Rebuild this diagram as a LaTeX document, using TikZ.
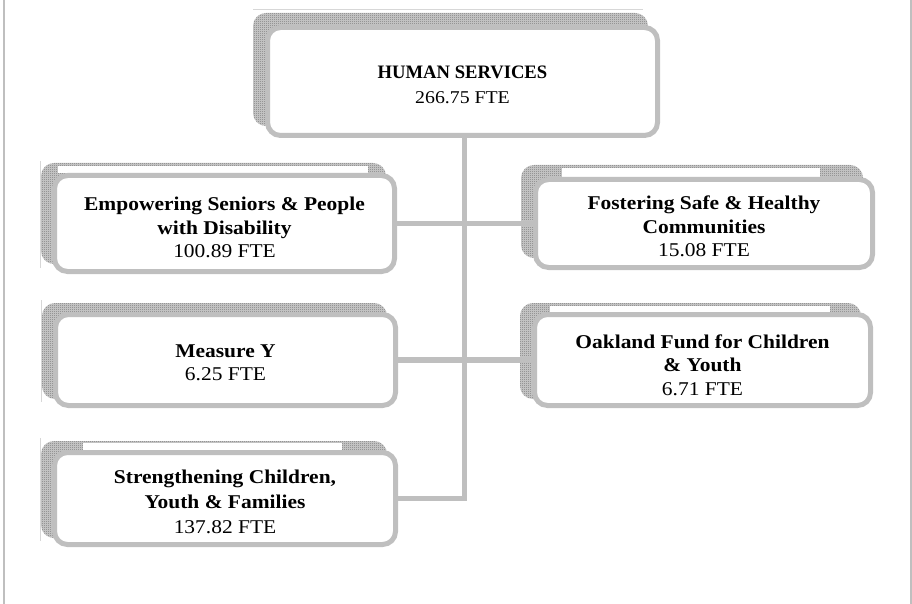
\documentclass[tikz,border=0pt]{standalone}
\usepackage{fontspec}
\setmainfont[FakeStretch=1.1]{Liberation Serif}
\usetikzlibrary{patterns,backgrounds}
\definecolor{boxgray}{RGB}{191,191,191}
\definecolor{shadegray}{RGB}{120,120,120}
\definecolor{shadebase}{RGB}{205,205,205}
\definecolor{thingray}{RGB}{215,215,215}
\pgfdeclarepatternformonly{finecheck}{\pgfqpoint{0pt}{0pt}}{\pgfqpoint{2pt}{2pt}}{\pgfqpoint{2pt}{2pt}}{%
  \pgfpathrectangle{\pgfqpoint{0pt}{0pt}}{\pgfqpoint{1pt}{1pt}}%
  \pgfpathrectangle{\pgfqpoint{1pt}{1pt}}{\pgfqpoint{1pt}{1pt}}%
  \pgfusepath{fill}}
\tikzset{
  orgbox/.style={draw=boxgray, line width=5pt, rounded corners=13pt, fill=white, inner sep=0pt},
  boxtext/.style={align=center, inner sep=0pt, font=\fontsize{19.5}{23.5}\selectfont},
  shade/.style={preaction={fill=shadebase}, pattern=finecheck, pattern color=shadegray, rounded corners=13pt},
  gap/.style={fill=white, draw=none},
  conn/.style={draw=boxgray, line width=5.5pt},
  thin/.style={draw=thingray, line width=1pt},
  frame/.style={draw=boxgray, line width=2pt}
}
\begin{document}
\begin{tikzpicture}[x=1pt,y=-1pt]
\useasboundingbox (0,0) rectangle (912,604);
% page border lines
\draw[frame] (3.5,0) -- (3.5,604);
\draw[frame] (910.5,0) -- (910.5,604);

% boxes
\node[orgbox, minimum width=390pt, minimum height=108pt] (hs) at (462.5,81.5) {};
\node[orgbox, minimum width=340pt, minimum height=96pt] (emp) at (224.5,223.5) {};
\node[orgbox, minimum width=337pt, minimum height=88pt] (fos) at (704,223.5) {};
\node[orgbox, minimum width=340pt, minimum height=91pt] (my) at (225.5,360) {};
\node[orgbox, minimum width=336pt, minimum height=91pt] (oak) at (702.5,360) {};
\node[orgbox, minimum width=341pt, minimum height=92pt] (str) at (225,498.5) {};

% texts
\node[boxtext, font=\fontsize{18}{25}\selectfont] (hsT) at ([shift={(0,3.5)}]hs.center)
  {{\fontsize{19}{25}\selectfont\bfseries\addfontfeature{FakeStretch=0.98}HUMAN SERVICES}\\266.75 FTE};
\node[boxtext] (empT) at ([shift={(0,4)}]emp.center)
  {\textbf{Empowering Seniors \& People}\\\textbf{with Disability}\\100.89 FTE};
\node[boxtext] (fosT) at ([shift={(0,3)}]fos.center)
  {\textbf{Fostering Safe \& Healthy}\\\textbf{Communities}\\15.08 FTE};
\node[boxtext] (myT) at ([shift={(0,3)}]my.center)
  {\textbf{Measure Y}\\6.25 FTE};
\node[boxtext] (oakT) at ([shift={(0,5)}]oak.center)
  {\textbf{Oakland Fund for Children}\\\textbf{\& Youth}\\6.71 FTE};
\node[boxtext, font=\fontsize{19.5}{25}\selectfont] (strT) at ([shift={(0,3)}]str.center)
  {\textbf{Strengthening Children,}\\\textbf{Youth \& Families}\\137.82 FTE};

\coordinate (tx) at (464.5,0);

\begin{scope}[on background layer]
  % shadows
  \foreach \b/\dx/\dy in {hs/-12/-12, emp/-11/-10, fos/-12/-12, my/-11/-9, oak/-12/-9, str/-11/-9}{
    \path[shade] ([shift={(\dx,\dy)}]\b.south west) rectangle ([shift={(\dx,\dy)}]\b.north east);
  }
  % white gaps in the top strips of some shadows
  \path[gap] (58,166) rectangle (368,173);
  \path[gap] (562,168) rectangle (820,177);
  \path[gap] (550,306) rectangle (830,312);
  \path[gap] (83,443) rectangle (342,450);
  % thin artefact lines
  \draw[thin] ([shift={(-12,-15)}]hs.north west) -- ([shift={(-17,-15)}]hs.north east);
  \draw[thin] ([shift={(-12,-12)}]emp.north west) -- ([shift={(-12,-6)}]emp.south west);
  \draw[thin] ([shift={(-12,-12)}]my.north west) -- ([shift={(-12,-6)}]my.south west);
  \draw[thin] ([shift={(-12,-12)}]str.north west) -- ([shift={(-12,-6)}]str.south west);
  % connectors
  \draw[conn] (hs.south -| tx) |- (str.east);
  \draw[conn] (emp.east) -- (fos.west);
  \draw[conn] (my.east) -- (oak.west);
\end{scope}
\end{tikzpicture}
\end{document}
